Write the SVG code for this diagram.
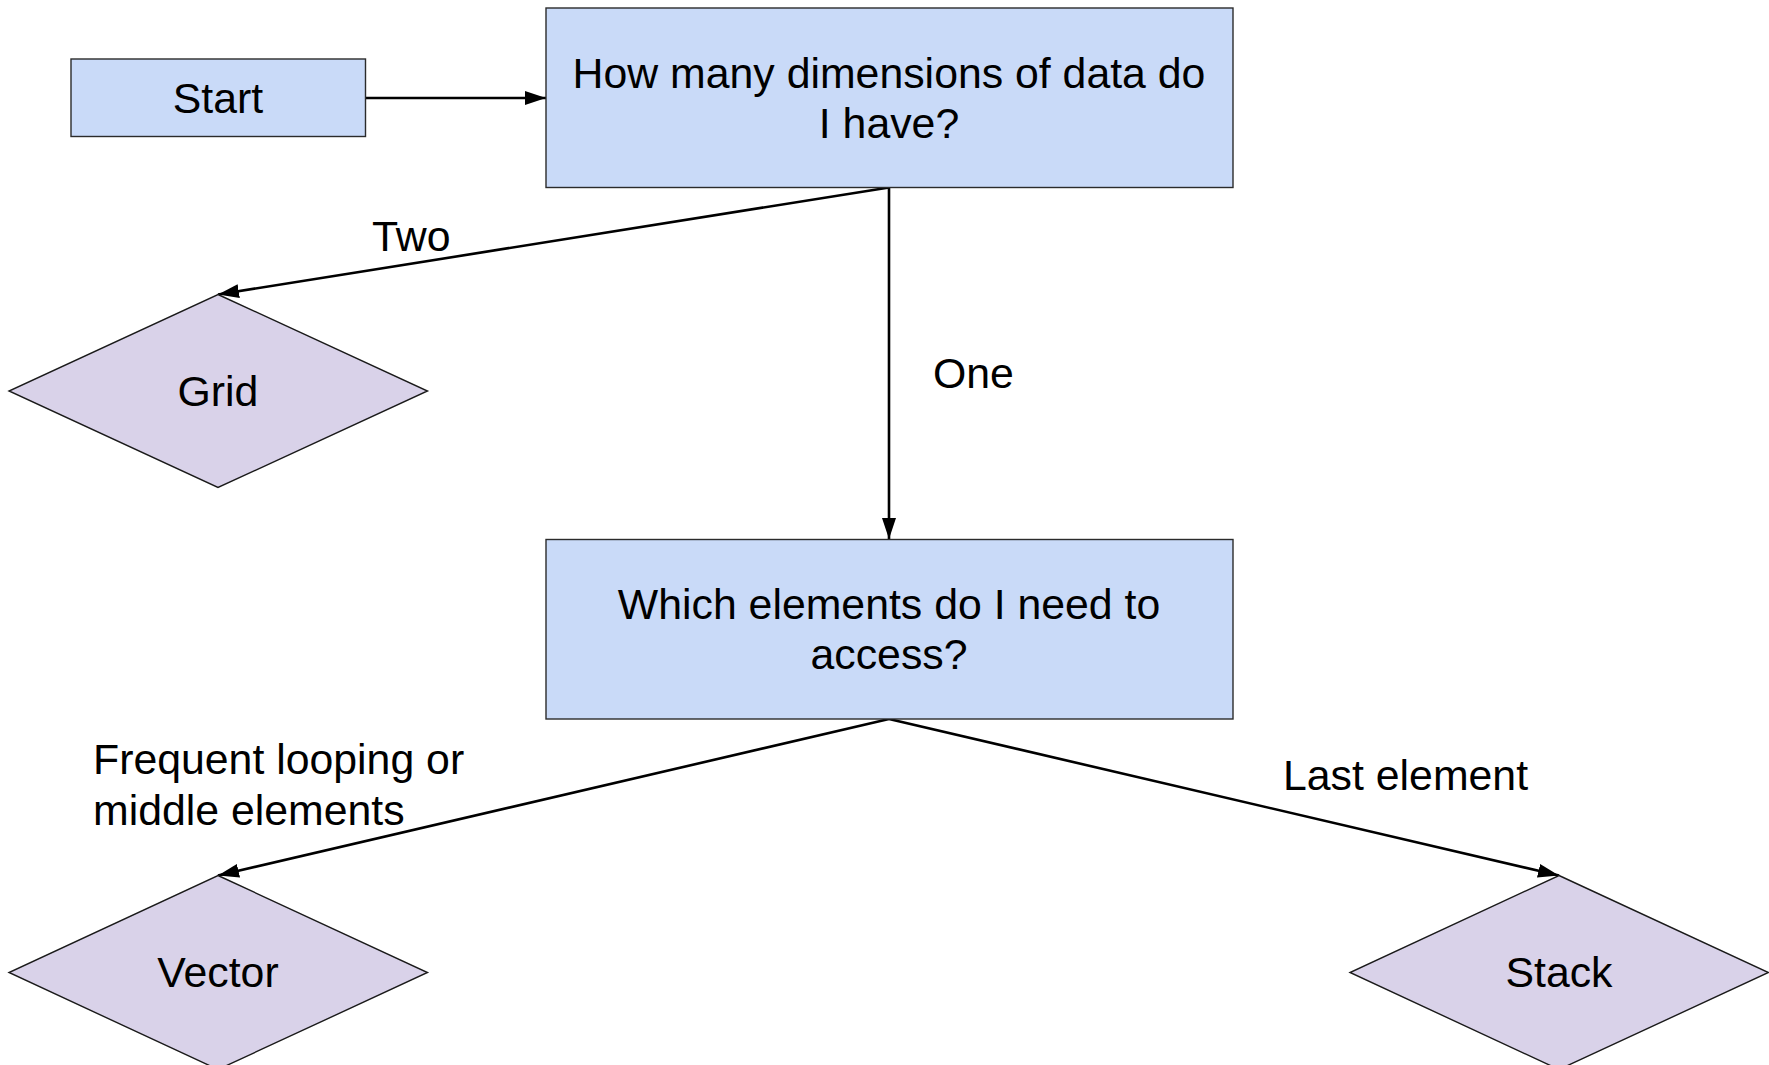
<svg xmlns="http://www.w3.org/2000/svg" width="1769" height="1065" viewBox="0 0 1769 1065">
  <style>
    .box { fill: #c9daf8; stroke: #2b2b2b; stroke-width: 1.4; }
    .dia { fill: #d9d2e9; stroke: #1a1a1a; stroke-width: 1.4; }
    .lbl { font-family: "Liberation Sans", Arial, sans-serif; font-size: 42.8px; fill: #000; }
    .mid { text-anchor: middle; }
    .edge { fill: none; stroke: #000; stroke-width: 2.6; marker-end: url(#arrow); }
  </style>
  <defs>
    <marker id="arrow" markerUnits="userSpaceOnUse" markerWidth="22" markerHeight="18" viewBox="0 0 22 18" refX="21" refY="9" orient="auto">
      <path d="M0,2 L21,9 L0,16 Z" fill="#000"/>
    </marker>
  </defs>
  <rect width="1769" height="1065" fill="#fff"/>

  <!-- connectors -->
  <g id="connectors">
    <line class="edge" x1="365.5" y1="98" x2="546" y2="98"/>
    <line class="edge" x1="889" y1="187.5" x2="218" y2="294.5"/>
    <line class="edge" x1="889" y1="187.5" x2="889" y2="539"/>
    <line class="edge" x1="889" y1="719" x2="218" y2="875.5"/>
    <line class="edge" x1="889" y1="719" x2="1559" y2="875.5"/>
    <text class="lbl" x="372" y="251">Two</text>
    <text class="lbl" x="933" y="388">One</text>
    <text class="lbl" x="93" y="774">Frequent looping or</text>
    <text class="lbl" x="93" y="825">middle elements</text>
    <text class="lbl" x="1283" y="790">Last element</text>
  </g>

  <g id="start">
    <rect class="box" x="71" y="59" width="294.5" height="77.5"/>
    <text class="lbl mid" x="218" y="113">Start</text>
  </g>

  <g id="dimensions">
    <rect class="box" x="546" y="8" width="687" height="179.5"/>
    <text class="lbl mid" x="889" y="88">How many dimensions of data do</text>
    <text class="lbl mid" x="889" y="138">I have?</text>
  </g>

  <g id="grid">
    <polygon class="dia" points="218,294.5 427.5,391 218,487.5 9,391"/>
    <text class="lbl mid" x="218" y="406">Grid</text>
  </g>

  <g id="access">
    <rect class="box" x="546" y="539.5" width="687" height="179.5"/>
    <text class="lbl mid" x="889" y="619">Which elements do I need to</text>
    <text class="lbl mid" x="889" y="669">access?</text>
  </g>

  <g id="vector">
    <polygon class="dia" points="218,875.5 427.5,972.5 218,1069.5 9,972.5"/>
    <text class="lbl mid" x="218" y="987">Vector</text>
  </g>

  <g id="stack">
    <polygon class="dia" points="1559,875.5 1768.5,972.5 1559,1069.5 1350,972.5"/>
    <text class="lbl mid" x="1559" y="987">Stack</text>
  </g>
</svg>
